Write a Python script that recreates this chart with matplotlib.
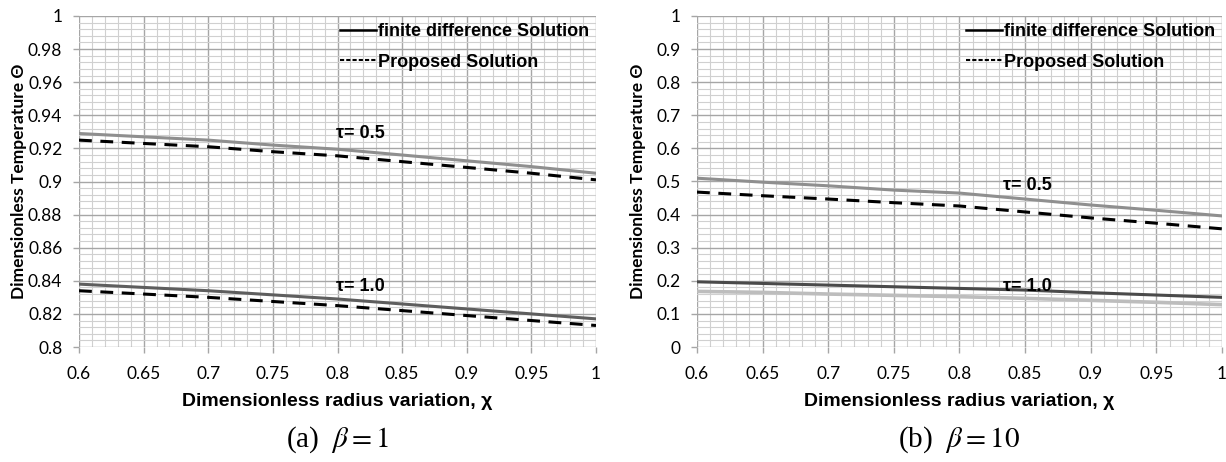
import matplotlib
matplotlib.use("Agg")
import matplotlib.pyplot as plt
from matplotlib.lines import Line2D
from matplotlib.ticker import MultipleLocator

plt.rcParams["mathtext.fontset"] = "stix"

# x positions (dimensionless radius) shared by all curves
chi = [0.6, 0.65, 0.7, 0.75, 0.8, 0.85, 0.9, 0.95, 1.0]

# (a) beta = 1
a_fd_05 = [0.929, 0.927, 0.925, 0.922, 0.9195, 0.916, 0.9125, 0.909, 0.905]
a_pr_05 = [0.925, 0.923, 0.921, 0.918, 0.9155, 0.912, 0.9085, 0.905, 0.901]
a_fd_10 = [0.838, 0.836, 0.834, 0.8315, 0.829, 0.826, 0.823, 0.820, 0.817]
a_pr_10 = [0.834, 0.832, 0.830, 0.8275, 0.825, 0.822, 0.819, 0.816, 0.813]

# (b) beta = 10
b_fd_05 = [0.510, 0.498, 0.487, 0.474, 0.465, 0.447, 0.429, 0.413, 0.396]
b_pr_05 = [0.468, 0.457, 0.447, 0.436, 0.426, 0.408, 0.390, 0.374, 0.357]
b_fd_10 = [0.197, 0.192, 0.187, 0.182, 0.177, 0.172, 0.164, 0.157, 0.150]
b_pr_10 = [0.168, 0.165, 0.160, 0.156, 0.152, 0.147, 0.141, 0.135, 0.128]

W, H = 1226, 462
fig = plt.figure(figsize=(W / 100, H / 100), dpi=100)

ax1 = fig.add_axes([79 / W, 1 - 347 / H, (596 - 79) / W, (347 - 16) / H])
ax2 = fig.add_axes([697 / W, 1 - 347 / H, (1222 - 697) / W, (347 - 16) / H])

dash = (0, (4.2, 2.8))

ax1.plot(chi, a_fd_05, color="#8f8f8f", lw=2.2)
ax1.plot(chi, a_pr_05, color="black", lw=2.2, linestyle=dash)
ax1.plot(chi, a_fd_10, color="#5e5e5e", lw=2.2)
ax1.plot(chi, a_pr_10, color="black", lw=2.2, linestyle=dash)

ax2.plot(chi, b_fd_05, color="#8f8f8f", lw=2.2)
ax2.plot(chi, b_pr_05, color="black", lw=2.2, linestyle=dash)
ax2.plot(chi, b_fd_10, color="#4a4a4a", lw=2.2)
ax2.plot(chi, b_pr_10, color="#bdbdbd", lw=2.6)

setups = [
    (ax1, 0.8, 1.0, 0.02, 0.004),
    (ax2, 0.0, 1.0, 0.1, 0.02),
]
for ax, y0, y1, ymaj, ymin in setups:
    ax.set_xlim(0.6, 1.0)
    ax.set_ylim(y0, y1)
    ax.xaxis.set_major_locator(MultipleLocator(0.05))
    ax.xaxis.set_minor_locator(MultipleLocator(0.01))
    ax.yaxis.set_major_locator(MultipleLocator(ymaj))
    ax.yaxis.set_minor_locator(MultipleLocator(ymin))
    ax.grid(True, which="major", color="#a6a6a6", lw=1.0)
    ax.grid(True, which="minor", color="#d0d0d0", lw=0.8)
    ax.set_axisbelow(True)
    for s in ax.spines.values():
        s.set_visible(False)
    ax.tick_params(which="major", length=4, color="#a6a6a6", width=1,
                   labelsize=12.5)
    ax.tick_params(axis="x", which="major", pad=10)
    ax.tick_params(axis="y", which="major", pad=8)
    ax.tick_params(which="minor", length=0)
    for lab in ax.get_xticklabels() + ax.get_yticklabels():
        lab.set_family("Lato")
    ax.xaxis.set_major_formatter(plt.FuncFormatter(lambda v, p: f"{v:g}"))
    ax.yaxis.set_major_formatter(plt.FuncFormatter(lambda v, p: f"{v:g}"))
    ax.set_xlabel("Dimensionless radius variation, χ", fontsize=14,
                  fontweight="bold", family="Liberation Sans")
    ax.xaxis.set_label_coords(0.5, -0.14)
    ax.set_ylabel("Dimensionless Temperature Θ", fontsize=12.5,
                  fontweight="bold", family="Lato")

    handles = [Line2D([], [], color="black", lw=1.8),
               Line2D([], [], color="black", lw=1.5, linestyle=(0, (2, 1)))]
    ax.legend(handles, ["finite difference Solution", "Proposed Solution"],
              loc="upper right", frameon=False, handlelength=2.0,
              handletextpad=0.1, labelspacing=0.75, borderaxespad=0.0,
              prop={"family": "Liberation Sans", "weight": "bold", "size": 13})

ax1.yaxis.set_label_coords(-0.1, 0.5)
ax2.yaxis.set_label_coords(-0.097, 0.5)

lab_kw = dict(fontsize=13, fontweight="bold", family="Liberation Sans",
              ha="left", va="center")
ax1.text(0.7985, 0.929, "τ= 0.5", **lab_kw)
ax1.text(0.7985, 0.8365, "τ= 1.0", **lab_kw)
ax2.text(0.833, 0.487, "τ= 0.5", **lab_kw)
ax2.text(0.833, 0.183, "τ= 1.0", **lab_kw)

cap_kw = dict(fontsize=21, family="Liberation Serif", ha="center", va="center")
fig.text((79 + 596) / 2 / W, 1 - 440 / H, r"(a)  $\beta = 1$", **cap_kw)
fig.text((697 + 1222) / 2 / W, 1 - 440 / H, r"(b)  $\beta = 10$", **cap_kw)

fig.savefig("out.png", dpi=100)
